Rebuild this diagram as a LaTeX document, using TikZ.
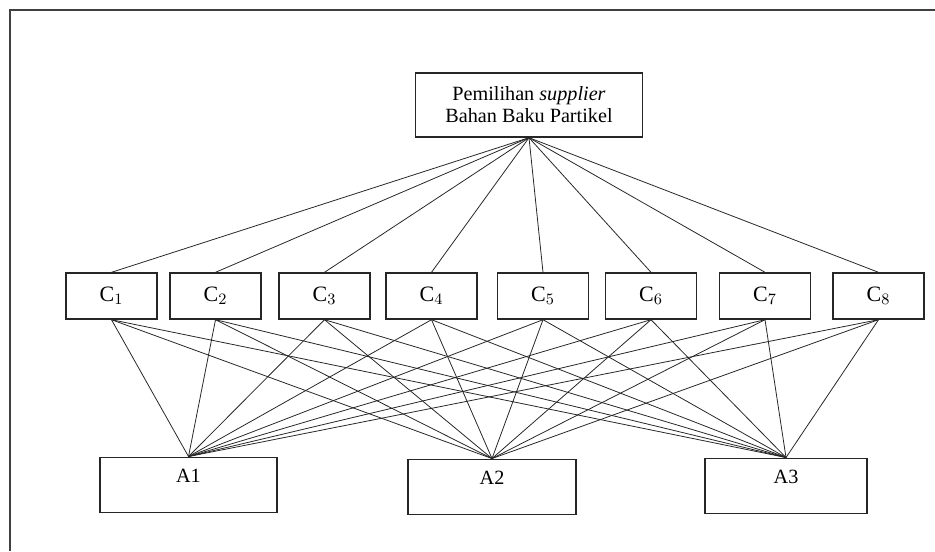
\documentclass[tikz,border=0pt]{standalone}
\usepackage{fontspec}
\setmainfont{Liberation Serif}
\tikzset{
  kotak/.style={draw=black!85,line width=0.8pt,rectangle,inner sep=2pt,
    font=\fontsize{11.5}{12.5}\selectfont},
  kriteria/.style={kotak,minimum width=1.82cm,minimum height=0.92cm,
    font=\fontsize{12.5}{14}\selectfont},
  alternatif/.style={kotak,text height=0.4cm,text depth=0.5cm,inner sep=3pt},
  garis/.style={draw=black!85,line width=0.45pt}
}
\begin{document}
\begin{tikzpicture}[x=0.02cm,y=-0.02cm]
\useasboundingbox (0,0) rectangle (935,551);
            % Frame
\draw[draw=black!75,line width=1.1pt] (10,551) -- (10,10) -- (935,10);
            % Goal
\node[kotak,minimum width=4.54cm,minimum height=1.28cm,align=center] (tujuan) at (529,105)
  {Pemilihan \textit{supplier}\\Bahan Baku Partikel};
            % Criteria
\node[kriteria] (c1) at (111.5,296) {C$_1$};
\node[kriteria] (c2) at (215.5,296) {C$_2$};
\node[kriteria] (c3) at (324.5,296) {C$_3$};
\node[kriteria] (c4) at (431.5,296) {C$_4$};
\node[kriteria] (c5) at (543  ,296) {C$_5$};
\node[kriteria] (c6) at (651  ,296) {C$_6$};
\node[kriteria] (c7) at (765  ,296) {C$_7$};
\node[kriteria] (c8) at (878.5,296) {C$_8$};
            % Alternatives
\node[alternatif,minimum width=3.54cm] (a1) at (188.5,485) {A1};
\node[alternatif,minimum width=3.36cm] (a2) at (492  ,487) {A2};
\node[alternatif,minimum width=3.24cm] (a3) at (786  ,486) {A3};
%Goal to Criteria
\draw[garis] (tujuan.south) -- (c1.north);
\draw[garis] (tujuan.south) -- (c2.north);
\draw[garis] (tujuan.south) -- (c3.north);
\draw[garis] (tujuan.south) -- (c4.north);
\draw[garis] (tujuan.south) -- (c5.north);
\draw[garis] (tujuan.south) -- (c6.north);
\draw[garis] (tujuan.south) -- (c7.north);
\draw[garis] (tujuan.south) -- (c8.north);
%Criteria to Alternatives
\draw[garis] (c1.south) -- (a1.north);
\draw[garis] (c1.south) -- (a2.north);
\draw[garis] (c1.south) -- (a3.north);
\draw[garis] (c2.south) -- (a1.north);
\draw[garis] (c2.south) -- (a2.north);
\draw[garis] (c2.south) -- (a3.north);
\draw[garis] (c3.south) -- (a1.north);
\draw[garis] (c3.south) -- (a2.north);
\draw[garis] (c3.south) -- (a3.north);
\draw[garis] (c4.south) -- (a1.north);
\draw[garis] (c4.south) -- (a2.north);
\draw[garis] (c4.south) -- (a3.north);
\draw[garis] (c5.south) -- (a1.north);
\draw[garis] (c5.south) -- (a2.north);
\draw[garis] (c5.south) -- (a3.north);
\draw[garis] (c6.south) -- (a1.north);
\draw[garis] (c6.south) -- (a2.north);
\draw[garis] (c6.south) -- (a3.north);
\draw[garis] (c7.south) -- (a1.north);
\draw[garis] (c7.south) -- (a2.north);
\draw[garis] (c7.south) -- (a3.north);
\draw[garis] (c8.south) -- (a1.north);
\draw[garis] (c8.south) -- (a2.north);
\draw[garis] (c8.south) -- (a3.north);

\end{tikzpicture}
\end{document}
